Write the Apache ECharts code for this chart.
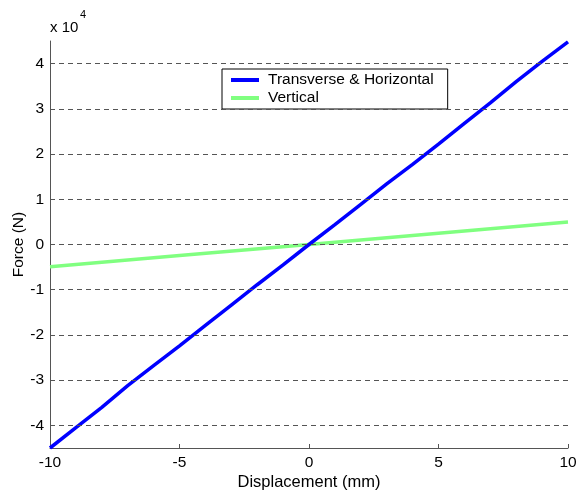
<!DOCTYPE html>
<html>
<head>
<meta charset="utf-8">
<script src="https://cdn.jsdelivr.net/npm/echarts@6/dist/echarts.min.js"></script>
<style>
  html, body { margin: 0; padding: 0; background: #fff; }
  #chart { width: 579px; height: 492px; }
</style>
</head>
<body>
<div id="chart"></div>
<script>
// displacement (mm) / force (N)
var transverse = [
  [-10, -45000], [-9, -40500], [-8, -36000], [-7, -31200], [-6, -26800],
  [-5, -22400], [-4, -17900], [-3, -13400], [-2, -8900], [-1, -4500],
  [0, 0], [1, 4400], [2, 8900], [3, 13400], [4, 17700],
  [5, 22200], [6, 26800], [7, 31300], [8, 36000], [9, 40500], [10, 44800]
];
var vertical = [
  [-10, -4900], [-5, -2450], [0, 0], [5, 2500], [10, 5000]
];
var yTicks = [-40000, -30000, -20000, -10000, 0, 10000, 20000, 30000, 40000];
var seriesNames = ['Transverse & Horizontal', 'Vertical'];

var font = "'Liberation Sans', Arial, sans-serif";
var chart = echarts.init(document.getElementById('chart'));

chart.setOption({
  animation: false,
  backgroundColor: '#fff',
  textStyle: { fontFamily: font },
  grid: { left: 50, right: 11, top: 41, bottom: 44, containLabel: false, outerBoundsMode: 'none' },
  legend: {
    data: seriesNames,
    orient: 'vertical',
    left: 222,
    top: 69,
    padding: [3, 14, 3, 9],
    itemGap: 2,
    itemWidth: 28,
    itemHeight: 4,
    icon: 'rect',
    backgroundColor: '#fff',
    borderColor: '#000',
    borderWidth: 1,
    borderRadius: 0,
    textStyle: { fontFamily: font, fontSize: 15.5, color: '#000', padding: [0, 0, 0, 4] }
  },
  xAxis: {
    type: 'value',
    min: -10,
    max: 10,
    interval: 5,
    name: 'Displacement (mm)',
    nameLocation: 'middle',
    nameGap: 26,
    nameMoveOverlap: false,
    nameTextStyle: { fontFamily: font, fontSize: 16.5, color: '#000' },
    axisLine: { onZero: false, lineStyle: { color: '#555', width: 1 } },
    axisTick: { inside: true, length: 4, lineStyle: { color: '#555' } },
    axisLabel: { fontFamily: font, fontSize: 15.5, color: '#000', margin: 7 },
    splitLine: { show: false }
  },
  yAxis: {
    type: 'value',
    min: -45000,
    max: 45000,
    name: 'Force (N)',
    nameLocation: 'middle',
    nameGap: 23,
    nameMoveOverlap: false,
    nameTextStyle: { fontFamily: font, fontSize: 15.5, color: '#000' },
    axisLine: { show: true, onZero: false, lineStyle: { color: '#555', width: 1 } },
    axisTick: { show: true, inside: true, length: 5, customValues: yTicks, lineStyle: { color: '#555' } },
    axisLabel: {
      fontFamily: font, fontSize: 15.5, color: '#000', margin: 6,
      customValues: yTicks,
      formatter: function (v) { return String(v / 10000); }
    },
    splitLine: { show: false }
  },
  graphic: [
    { type: 'text', left: 50, top: 20, style: { text: 'x 10', font: '15px ' + font, fill: '#000' } },
    { type: 'text', left: 80, top: 9, style: { text: '4', font: '11px ' + font, fill: '#000' } }
  ],
  series: [
    {
      name: 'grid',
      type: 'line',
      data: [],
      z: 1,
      silent: true,
      markLine: {
        silent: true,
        symbol: 'none',
        label: { show: false },
        lineStyle: { color: '#555', width: 1, type: [5, 4] },
        data: yTicks.map(function (v) { return { yAxis: v }; })
      }
    },
    {
      name: seriesNames[0],
      type: 'line',
      data: transverse,
      z: 3,
      showSymbol: false,
      color: '#0000ff',
      lineStyle: { width: 3.5, color: '#0000ff' }
    },
    {
      name: seriesNames[1],
      type: 'line',
      data: vertical,
      z: 2,
      showSymbol: false,
      color: '#80ff80',
      lineStyle: { width: 3.5, color: '#80ff80' }
    }
  ]
});
</script>
</body>
</html>
